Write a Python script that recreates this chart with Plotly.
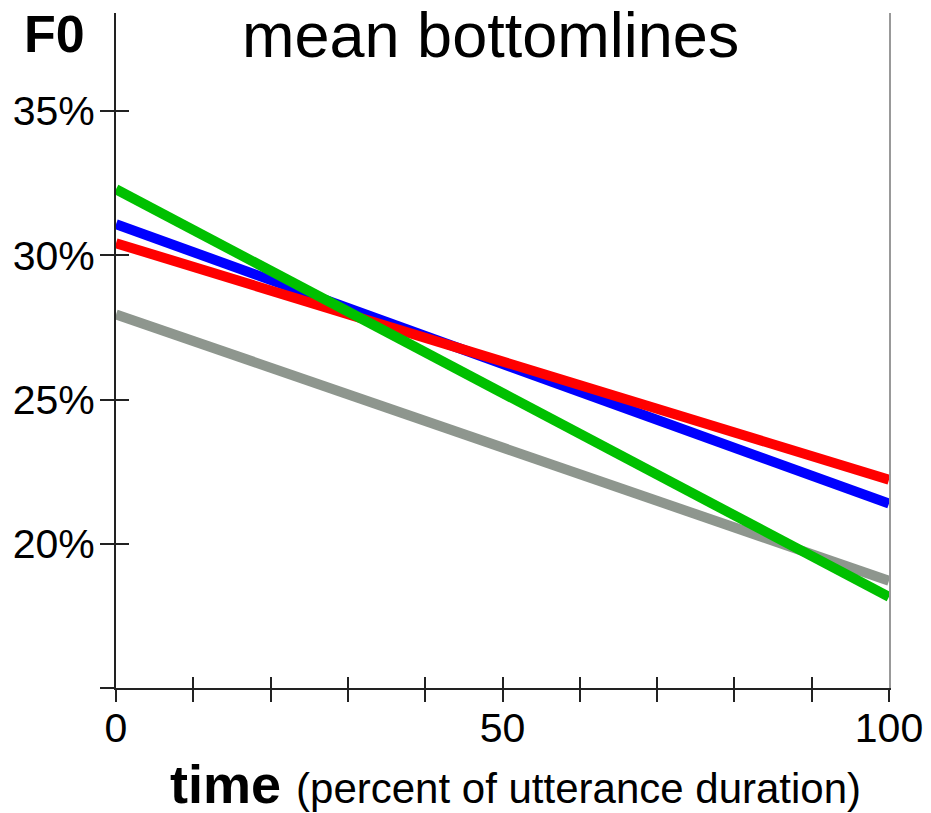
import plotly.graph_objects as go

# data (percent of utterance duration, F0 %)
time_pts = [0, 100]
gray_vals = [27.95, 18.72]
blue_vals = [31.08, 21.39]
red_vals = [30.42, 22.22]
green_vals = [32.29, 18.16]

x_ticks = [0, 10, 20, 30, 40, 50, 60, 70, 80, 90, 100]
x_labels = ["0", "", "", "", "", "50", "", "", "", "", "100"]
y_ticks = [15, 20, 25, 30, 35]
y_labels = ["", "20%", "25%", "30%", "35%"]

FONT = "Liberation Sans, Arial, Helvetica, sans-serif"

fig = go.Figure()
for vals, col in [(gray_vals, "#8e968e"), (blue_vals, "#0000ff"),
                  (red_vals, "#ff0000"), (green_vals, "#00c000")]:
    fig.add_trace(go.Scatter(x=time_pts, y=vals, mode="lines",
                             line=dict(color=col, width=10),
                             showlegend=False, hoverinfo="skip"))

# dummy traces for secondary axes
fig.add_trace(go.Scatter(x=[None], y=[None], xaxis="x2", yaxis="y3",
                         showlegend=False, hoverinfo="skip"))
fig.add_trace(go.Scatter(x=[None], y=[None], yaxis="y2",
                         showlegend=False, hoverinfo="skip"))

xr = [0, 100]
yr = [15, 38.4]

fig.update_layout(
    template="none",
    width=931, height=813,
    margin=dict(l=116, r=42, t=13, b=125, pad=0),
    paper_bgcolor="white", plot_bgcolor="white",
    font=dict(family=FONT, color="black", size=41),
    xaxis=dict(range=xr, tickvals=x_ticks, ticktext=x_labels,
               ticks="outside", ticklen=12, tickwidth=2, tickcolor="#222",
               showline=True, linecolor="#222", linewidth=2,
               showgrid=False, zeroline=False, automargin=False,
               ticklabelstandoff=-9,
               tickfont=dict(size=41, family=FONT)),
    xaxis2=dict(range=xr, overlaying="x", tickvals=x_ticks, ticks="inside",
                ticklen=11, tickwidth=2, tickcolor="#222",
                showticklabels=False, showgrid=False, zeroline=False,
                showline=False, anchor="y", automargin=False),
    yaxis=dict(range=yr, tickvals=y_ticks, ticktext=y_labels,
               ticks="outside", ticklen=14, tickwidth=2, tickcolor="#222",
               showline=True, linecolor="#222", linewidth=2,
               showgrid=False, zeroline=False, automargin=False,
               ticklabelstandoff=-3,
               tickfont=dict(size=41, family=FONT)),
    yaxis2=dict(range=yr, overlaying="y", side="right", showline=True,
                linecolor="#999", linewidth=2, showticklabels=False,
                ticks="", showgrid=False, zeroline=False, automargin=False),
    yaxis3=dict(range=yr, overlaying="y", side="left", tickvals=y_ticks,
                ticks="inside", ticklen=13, tickwidth=2, tickcolor="#222",
                showticklabels=False, showgrid=False, zeroline=False,
                showline=False, anchor="x", automargin=False),
    annotations=[
        dict(text="mean bottomlines", xref="paper", yref="paper",
             x=0.484, y=0.967, xanchor="center", yanchor="middle",
             showarrow=False, font=dict(size=63, family=FONT)),
        dict(text="<b>F0</b>", xref="paper", yref="paper",
             x=-0.080, y=0.969, xanchor="center", yanchor="middle",
             showarrow=False, font=dict(size=52, family=FONT)),
        dict(text="<b>time</b> <span style='font-size:42px'>(percent of utterance duration)</span>",
             xref="paper", yref="paper", x=0.517, y=-0.142,
             xanchor="center", yanchor="middle", showarrow=False,
             font=dict(size=54, family=FONT)),
    ],
)

fig.write_html("out.html", config={"displayModeBar": False},
               post_script="document.body.style.margin='0px';document.body.style.overflow='hidden';")
